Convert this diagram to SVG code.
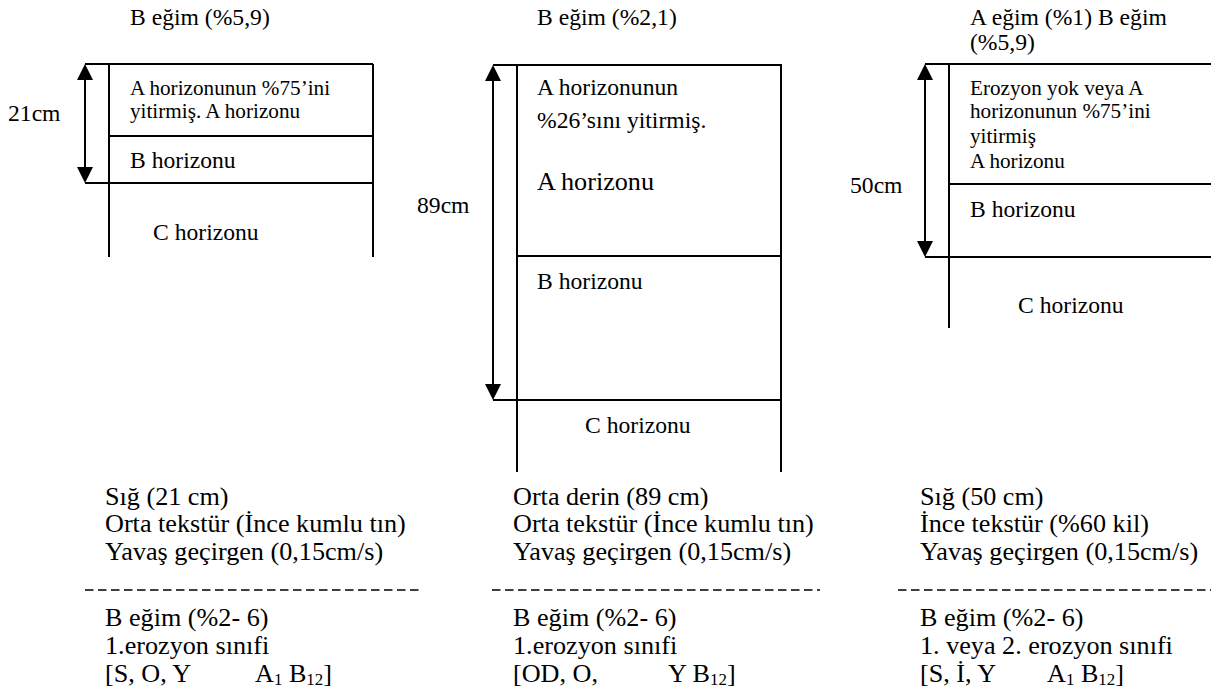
<svg xmlns="http://www.w3.org/2000/svg" width="1211" height="699" viewBox="0 0 1211 699">
<style>
.t{font-family:"Liberation Serif","Times New Roman",serif;fill:#000}
.s18{font-size:20px}.s20{font-size:22.3px}.s22{font-size:24.7px}
.sub{font-size:16px}
.ln{stroke:#000;stroke-width:2;fill:none}
.dash{stroke:#000;stroke-width:1.6;stroke-dasharray:8.5 4.5;fill:none}
.arr{stroke:#000;stroke-width:2;fill:none;marker-start:url(#ah);marker-end:url(#ah)}
</style>
<defs>
<marker id="ah" viewBox="0 0 16 16" markerWidth="16" markerHeight="16" markerUnits="userSpaceOnUse" refX="10" refY="8" orient="auto-start-reverse">
<path d="M0,0 L16,8 L0,16 z" fill="#000"/>
</marker>
</defs>
<rect width="1211" height="699" fill="#fff"/>

<g id="profile-1">
<text class="t s20" transform="translate(130 25) scale(1.06 1)">B eğim (%5,9)</text>
<text class="t s20" transform="translate(8 121) scale(1.06 1)">21cm</text>
<path class="ln" d="M85,64H373M109,136H373M85,183H373M109,64V257M373,64V257"/>
<g id="p1-a"><text class="t s18" transform="translate(130 95) scale(1.06 1)"><tspan x="0">A horizonunun %75’ini</tspan><tspan x="0" dy="23">yitirmiş. A horizonu</tspan></text></g>
<g id="p1-b"><text class="t s20" transform="translate(130 168) scale(1.06 1)">B horizonu</text></g>
<g id="p1-c"><text class="t s20" transform="translate(153 240) scale(1.06 1)">C horizonu</text></g>
</g>

<g id="profile-2">
<text class="t s20" transform="translate(537 25) scale(1.06 1)">B eğim (%2,1)</text>
<text class="t s20" transform="translate(417 213) scale(1.06 1)">89cm</text>
<path class="ln" d="M493,65H782M517,256H782M493,400H782M517,65V472M781,65V472"/>
<g id="p2-a"><text class="t s20" transform="translate(537 95) scale(1.06 1)"><tspan x="0">A horizonunun</tspan><tspan x="0" dy="33">%26’sını yitirmiş.</tspan></text>
<text class="t s22" transform="translate(537 190) scale(1.06 1)">A horizonu</text></g>
<g id="p2-b"><text class="t s20" transform="translate(537 289) scale(1.06 1)">B horizonu</text></g>
<g id="p2-c"><text class="t s20" transform="translate(585 433) scale(1.06 1)">C horizonu</text></g>
</g>

<g id="profile-3">
<text class="t s20" transform="translate(970 25) scale(1.06 1)"><tspan x="0">A eğim (%1) B eğim</tspan><tspan x="0" dy="25">(%5,9)</tspan></text>
<text class="t s20" transform="translate(850 193) scale(1.06 1)">50cm</text>
<path class="ln" d="M925,64H1211M949,184H1211M925,257H1211M949,64V328"/>
<g id="p3-a"><text class="t s18" transform="translate(970 95) scale(1.06 1)"><tspan x="0">Erozyon yok veya A</tspan><tspan x="0" dy="23.5">horizonunun %75’ini</tspan><tspan x="0" dy="24.5">yitirmiş</tspan><tspan x="0" dy="25">A horizonu</tspan></text></g>
<g id="p3-b"><text class="t s20" transform="translate(970 217) scale(1.06 1)">B horizonu</text></g>
<g id="p3-c"><text class="t s20" transform="translate(1018 313) scale(1.06 1)">C horizonu</text></g>
</g>

<g id="connectors">
<line class="arr" x1="85" y1="70" x2="85" y2="177"/>
<line class="arr" x1="493" y1="71" x2="493" y2="394"/>
<line class="arr" x1="925" y1="70" x2="925" y2="251"/>
</g>

<g id="desc-1">
<text class="t s22" transform="translate(105 505) scale(1.06 1)"><tspan x="0">Sığ (21 cm)</tspan><tspan x="0" dy="27.5">Orta tekstür (İnce kumlu tın)</tspan><tspan x="0" dy="27.5">Yavaş geçirgen (0,15cm/s)</tspan></text>
<line class="dash" x1="85" y1="590" x2="422" y2="590"/>
<text class="t s22" transform="translate(105 626) scale(1.06 1)"><tspan x="0">B eğim (%2- 6)</tspan><tspan x="0" dy="28">1.erozyon sınıfi</tspan><tspan x="0" dy="28">[S, O, Y</tspan></text>
<text class="t s22" transform="translate(255 682) scale(1.06 1)">A<tspan class="sub" dy="3">1</tspan><tspan dy="-3"> B</tspan><tspan class="sub" dy="3">12</tspan><tspan dy="-3">]</tspan></text>
</g>

<g id="desc-2">
<text class="t s22" transform="translate(513 505) scale(1.06 1)"><tspan x="0">Orta derin (89 cm)</tspan><tspan x="0" dy="27.5">Orta tekstür (İnce kumlu tın)</tspan><tspan x="0" dy="27.5">Yavaş geçirgen (0,15cm/s)</tspan></text>
<line class="dash" x1="492" y1="590" x2="820" y2="590"/>
<text class="t s22" transform="translate(513 626) scale(1.06 1)"><tspan x="0">B eğim (%2- 6)</tspan><tspan x="0" dy="28">1.erozyon sınıfi</tspan><tspan x="0" dy="28">[OD, O,</tspan></text>
<text class="t s22" transform="translate(668 682) scale(1.06 1)">Y B<tspan class="sub" dy="3">12</tspan><tspan dy="-3">]</tspan></text>
</g>

<g id="desc-3">
<text class="t s22" transform="translate(920 505) scale(1.06 1)"><tspan x="0">Sığ (50 cm)</tspan><tspan x="0" dy="27.5">İnce tekstür (%60 kil)</tspan><tspan x="0" dy="27.5">Yavaş geçirgen (0,15cm/s)</tspan></text>
<line class="dash" x1="898" y1="590" x2="1211" y2="590"/>
<text class="t s22" transform="translate(920 626) scale(1.06 1)"><tspan x="0">B eğim (%2- 6)</tspan><tspan x="0" dy="28">1. veya 2. erozyon sınıfi</tspan><tspan x="0" dy="28">[S, İ, Y</tspan></text>
<text class="t s22" transform="translate(1047 682) scale(1.06 1)">A<tspan class="sub" dy="3">1</tspan><tspan dy="-3"> B</tspan><tspan class="sub" dy="3">12</tspan><tspan dy="-3">]</tspan></text>
</g>
</svg>
